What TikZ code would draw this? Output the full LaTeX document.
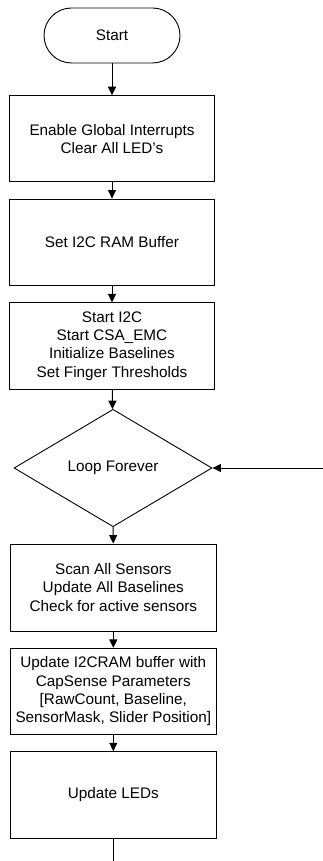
\documentclass[tikz,border=0pt]{standalone}
\usepackage{fontspec}
\setmainfont{Liberation Sans}
\usetikzlibrary{shapes.geometric,arrows.meta}
\begin{document}
\begin{tikzpicture}[x=1pt,y=-1pt,
  every node/.style={font=\fontsize{15.3}{18.2}\selectfont, align=center, inner sep=0pt},
  proc/.style={draw, line width=0.9pt, rectangle, minimum width=205.5pt},
  term/.style={draw, line width=0.9pt, rectangle, rounded corners=27.5pt, minimum width=136pt, minimum height=55pt},
  dec/.style={draw, line width=0.9pt, diamond, aspect=1.687, minimum width=198pt, minimum height=117.4pt},
  flow/.style={draw, line width=0.9pt, -{Triangle[width=8pt,length=8.5pt]}},
  plain/.style={draw, line width=0.9pt}]
\useasboundingbox (0,0) rectangle (323,861);
\node[term] (start) at (112,35.5) {Start};
\node[proc, minimum height=86pt] (b1) at (112,138.7) {Enable Global Interrupts\\Clear All LED’s};
\node[proc, minimum height=86.7pt] (b2) at (112,242.4) {Set I2C RAM Buffer};
\node[proc, minimum height=86.3pt] (b3) at (112,346) {Start I2C\\Start CSA\_EMC\\Initialize Baselines\\Set Finger Thresholds};
\node[dec] (loop) at (113,468) {Loop Forever};
\node[proc, minimum height=87pt] (b4) at (113.3,587.5) {Scan All Sensors\\Update All Baselines\\Check for active sensors};
\node[proc, minimum height=86pt] (b5) at (113.3,691.3) {Update I2CRAM buffer with\\CapSense Parameters\\{[}RawCount, Baseline,\\SensorMask, Slider Position{]}};
\node[proc, minimum height=86.6pt] (b6) at (113.3,795) {Update LEDs};
\coordinate (loopin) at (323,468);
\coordinate (endpt) at (113.3,861);
\draw[flow] (start) -- (b1);
\draw[flow] (b1) -- (b2);
\draw[flow] (b2) -- (b3);
\draw[flow] (b3) -- (loop);
\draw[flow] (loop) -- (b4);
\draw[flow] (b4) -- (b5);
\draw[flow] (b5) -- (b6);
\draw[flow] (loopin) -- (loop.east);
\draw[plain] (b6) -- (endpt);
\end{tikzpicture}
\end{document}
